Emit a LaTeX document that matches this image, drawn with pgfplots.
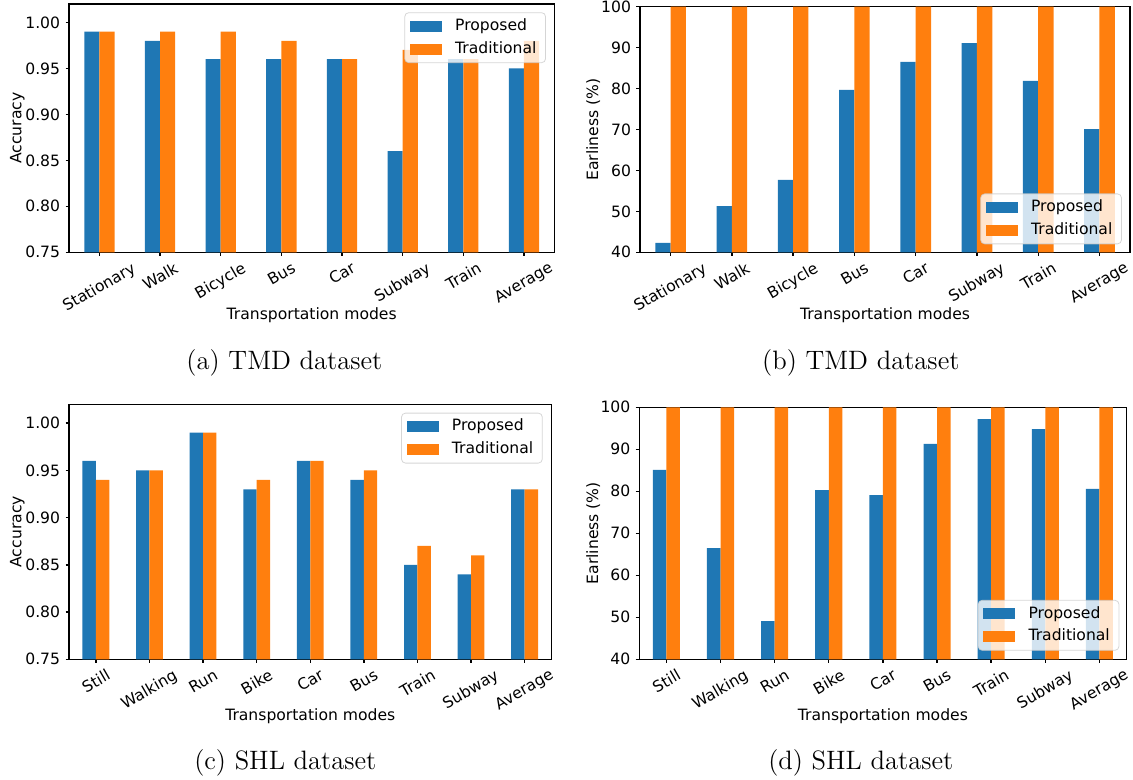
\documentclass[border=0pt]{standalone}
\usepackage{fontspec}
\usepackage{graphicx}
\usepackage{pgfplots}
\usepackage{pgfplotstable}
\pgfplotsset{compat=1.18}
\newfontfamily\dejavu{DejaVu Sans}
\newcommand{\mpl}{\dejavu\fontsize{7.8}{9.4}\selectfont}
\newcommand{\R}[1]{\rotatebox{30}{#1}}
\definecolor{mblue}{HTML}{1F77B4}
\definecolor{morange}{HTML}{FF7F0E}
\pgfplotsset{
  mplbar/.style={
    scale only axis, anchor=south west,
    ybar, bar width=0.25,
    axis line style={line width=0.7pt},
    tick style={black, line width=0.7pt},
    major tick length=1.8pt,
    tick align=outside, xtick pos=bottom, ytick pos=left,
    tick label style={font=\mpl},
    label style={font=\mpl},
    xticklabel style={anchor=north, inner sep=1pt, yshift=-1.5pt},
    yticklabel style={anchor=east, inner sep=1pt, xshift=-1.5pt},
    /pgf/number format/assume math mode=true,
    xlabel={Transportation modes},
    legend cell align=left,
    legend style={font=\mpl, draw=black!20, fill=white, fill opacity=0.8, draw opacity=0.8, text opacity=1, rounded corners=2pt, inner xsep=2.6pt, inner ysep=1.1pt, row sep=0pt, column sep=4.6pt, nodes={inner sep=2pt, text height=5.8pt, text depth=1.6pt}},
    legend image code/.code={\fill[##1, fill opacity=1, sharp corners] (0pt,-2.75pt) rectangle (16pt,2.75pt);},
  },
  propo/.style={fill=mblue, draw=none, bar shift=-0.125},
  trad/.style={fill=morange, draw=none, bar shift=0.125},
  accaxis/.style={ymin=0.75, ymax=1.02, ytick={0.75,0.80,0.85,0.90,0.95,1.00},
    yticklabel style={/pgf/number format/fixed, /pgf/number format/fixed zerofill, /pgf/number format/precision=2},
    ylabel={Accuracy}},
  earlaxis/.style={ymin=40, ymax=100, ytick={40,50,60,70,80,90,100}, ylabel={Earliness (\%)}},
}

\pgfplotstableread{
x prop trad
0 0.99 0.99
1 0.98 0.99
2 0.96 0.99
3 0.96 0.98
4 0.96 0.96
5 0.86 0.97
6 0.96 0.96
7 0.95 0.98
}\tmdacc
\pgfplotstableread{
x prop trad
0 42.3 100
1 51.3 100
2 57.7 100
3 79.7 100
4 86.5 100
5 91.1 100
6 81.9 100
7 70.1 100
}\tmdearl
\pgfplotstableread{
x prop trad
0 0.96 0.94
1 0.95 0.95
2 0.99 0.99
3 0.93 0.94
4 0.96 0.96
5 0.94 0.95
6 0.85 0.87
7 0.84 0.86
8 0.93 0.93
}\shlacc
\pgfplotstableread{
x prop trad
0 85.1 100
1 66.5 100
2 49.1 100
3 80.3 100
4 79.1 100
5 91.3 100
6 97.2 100
7 94.8 100
8 80.6 100
}\shlearl

\begin{document}
\begin{tikzpicture}
\path[use as bounding box] (0,0) rectangle (566.5pt,390pt);

% (a)
\begin{axis}[mplbar, accaxis,
  at={(34.55pt,263.85pt)}, width=242.6pt, height=124.15pt,
  xmin=-0.5, xmax=7.5, xtick={0,...,7},
  xticklabels={\R{Stationary},\R{Walk},\R{Bicycle},\R{Bus},\R{Car},\R{Subway},\R{Train},\R{Average}},
  xlabel style={at={(axis description cs:0.5,-0.2525)}, anchor=center},
  ylabel style={at={(axis description cs:-0.1066,0.5)}, anchor=center},
  legend style={at={(0.9829,0.9666)}, anchor=north east}]
\addplot[propo] table[x=x,y=prop]{\tmdacc};
\addplot[trad] table[x=x,y=trad]{\tmdacc};
\legend{Proposed,Traditional}
\end{axis}

% (b)
\begin{axis}[mplbar, earlaxis,
  at={(320pt,263.85pt)}, width=245.05pt, height=122.8pt,
  xmin=-0.5, xmax=7.5, xtick={0,...,7},
  xticklabels={\R{Stationary},\R{Walk},\R{Bicycle},\R{Bus},\R{Car},\R{Subway},\R{Train},\R{Average}},
  xlabel style={at={(axis description cs:0.5,-0.2553)}, anchor=center},
  ylabel style={at={(axis description cs:-0.0953,0.5)}, anchor=center},
  legend style={at={(0.9833,0.0326)}, anchor=south east}]
\addplot[propo] table[x=x,y=prop]{\tmdearl};
\addplot[trad] table[x=x,y=trad]{\tmdearl};
\legend{Proposed,Traditional}
\end{axis}

% (c)
\begin{axis}[mplbar, accaxis,
  at={(34.55pt,60.35pt)}, width=241.15pt, height=127.5pt,
  xmin=-0.5, xmax=8.5, xtick={0,...,8},
  xticklabels={\R{Still},\R{Walking},\R{Run},\R{Bike},\R{Car},\R{Bus},\R{Train},\R{Subway},\R{Average}},
  xlabel style={at={(axis description cs:0.5,-0.2224)}, anchor=center},
  ylabel style={at={(axis description cs:-0.1072,0.5)}, anchor=center},
  legend style={at={(0.982,0.967)}, anchor=north east}]
\addplot[propo] table[x=x,y=prop]{\shlacc};
\addplot[trad] table[x=x,y=trad]{\shlacc};
\legend{Proposed,Traditional}
\end{axis}

% (d)
\begin{axis}[mplbar, earlaxis,
  at={(319.65pt,60.35pt)}, width=243.6pt, height=126pt,
  xmin=-0.5, xmax=8.5, xtick={0,...,8},
  xticklabels={\R{Still},\R{Walking},\R{Run},\R{Bike},\R{Car},\R{Bus},\R{Train},\R{Subway},\R{Average}},
  xlabel style={at={(axis description cs:0.5,-0.225)}, anchor=center},
  ylabel style={at={(axis description cs:-0.0944,0.5)}, anchor=center},
  legend style={at={(0.9854,0.0341)}, anchor=south east}]
\addplot[propo] table[x=x,y=prop]{\shlearl};
\addplot[trad] table[x=x,y=trad]{\shlearl};
\legend{Proposed,Traditional}
\end{axis}

\node[font=\fontsize{13.3}{16}\selectfont] at (142.2pt,208.5pt) {(a) TMD dataset};
\node[font=\fontsize{13.3}{16}\selectfont] at (430.4pt,208.5pt) {(b) TMD dataset};
\node[font=\fontsize{13.3}{16}\selectfont] at (142.65pt,8.6pt) {(c) SHL dataset};
\node[font=\fontsize{13.3}{16}\selectfont] at (430.4pt,8.6pt) {(d) SHL dataset};
\end{tikzpicture}
\end{document}
